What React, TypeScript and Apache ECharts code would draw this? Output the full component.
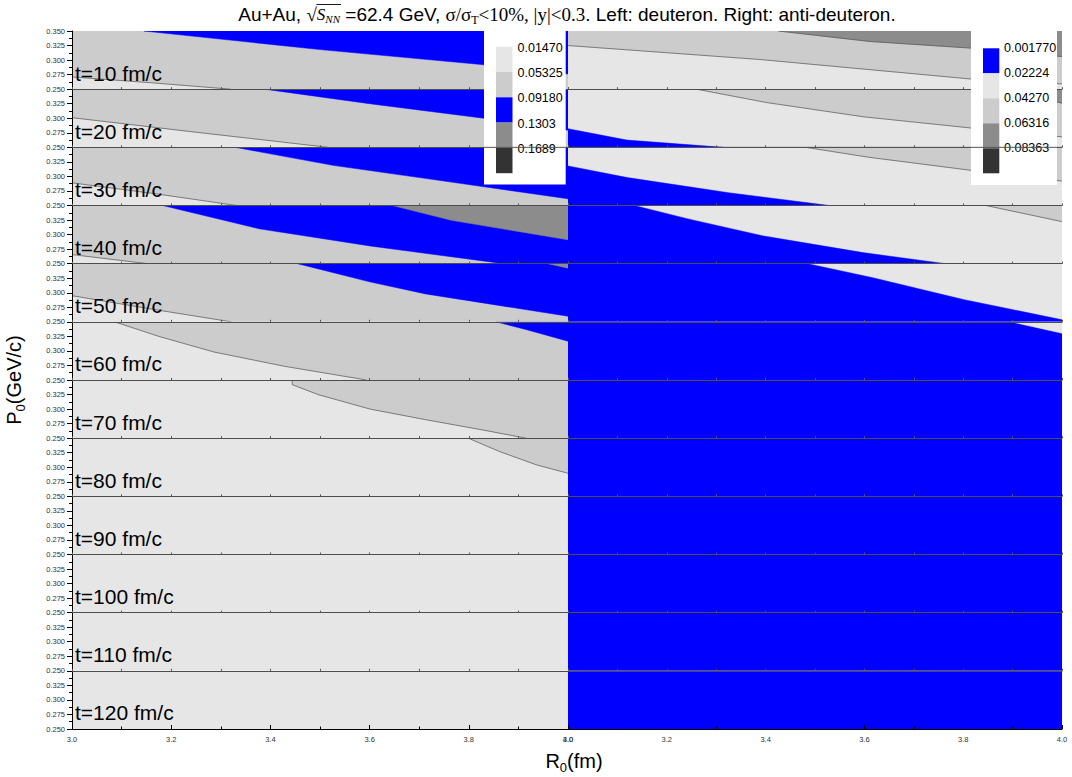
import React, { useEffect, useRef } from "react";
import * as echarts from "echarts";

// ---------------- data ----------------
const TIMES = [10, 20, 30, 40, 50, 60, 70, 80, 90, 100, 110, 120];
const R_RANGE = [3.0, 4.0];
const P_RANGE = [0.25, 0.35];
const P_TICK = 0.025;
const R_TICK = 0.2;

const DEUTERON_LEVELS = ["0.01470", "0.05325", "0.09180", "0.1303", "0.1689"];
const DEUTERON_COLORS = ["#e6e6e6", "#cccccc", "#0000ff", "#8c8c8c", "#333333"];
const ANTI_LEVELS = ["0.001770", "0.02224", "0.04270", "0.06316", "0.08363"];
const ANTI_COLORS = ["#0000ff", "#e6e6e6", "#cccccc", "#8c8c8c", "#333333"];

// background level (index into colours) of every time row
const DEUTERON_BASE = [0, 0, 0, 0, 0, 0, 0, 0, 0, 0, 0, 0];
const ANTI_BASE = [1, 1, 1, 1, 1, 0, 0, 0, 0, 0, 0, 0];

// contour curves, points are [R0 (fm), P0 (GeV/c)]
const d10Low = [[3, 0.271], [3.16, 0.261], [3.32, 0.25]];
const d10High = [[3.145, 0.35], [3.5, 0.318], [3.83, 0.292], [4, 0.276]];
const d20Low = [[3, 0.301], [3.25, 0.276], [3.517, 0.25]];
const d20High = [[3.388, 0.35], [3.6, 0.325], [3.83, 0.3], [4, 0.2795]];
const d30Low = [[3, 0.289], [3.17, 0.27], [3.332, 0.25]];
const d30High = [[3.329, 0.35], [3.526, 0.319], [3.75, 0.292], [4, 0.2615]];
const d40Low = [[3, 0.2656], [3.153, 0.25]];
const d40High = [[3.183, 0.35], [3.377, 0.31], [3.601, 0.2804], [3.87, 0.25]];
const d40Top = [[3.646, 0.35], [3.765, 0.3245], [4, 0.291]];
const d50Low = [[3, 0.295], [3.16, 0.272], [3.321, 0.25]];
const d50High = [[3.455, 0.35], [3.6, 0.3187], [3.713, 0.298], [4, 0.2596]];
const d50Top = [[3.96, 0.35], [4, 0.3423]];
const d60Low = [[3.086, 0.35], [3.175, 0.325], [3.287, 0.298], [3.429, 0.2735], [3.594, 0.25]];
const d60High = [[3.855, 0.35], [3.915, 0.3368], [4, 0.3167]];
const d70Low = [[3.444, 0.35], [3.444, 0.342], [3.497, 0.3247], [3.601, 0.3], [3.713, 0.2818], [3.825, 0.2646], [3.915, 0.25]];
const d80Low = [[3.799, 0.35], [3.862, 0.327], [3.937, 0.304], [4, 0.2897]];

const a10Mid = [[3, 0.325], [3.389, 0.301], [3.815, 0.2675], [4, 0.259]];
const a10Top = [[3.426, 0.35], [3.611, 0.332], [3.815, 0.3206], [4, 0.306]];
const a20Blue = [[3, 0.282], [3.119, 0.2625], [3.314, 0.25]];
const a20Mid = [[3.26, 0.35], [3.402, 0.327], [3.598, 0.3025], [3.815, 0.2833], [4, 0.268]];
const a20Top = [[3.88, 0.35], [4, 0.326]];
const a30Blue = [[3, 0.318], [3.12, 0.298], [3.325, 0.272], [3.529, 0.25]];
const a30Mid = [[3.481, 0.35], [3.611, 0.3327], [3.824, 0.3096], [4, 0.292]];
const a40Blue = [[3.134, 0.35], [3.243, 0.327], [3.393, 0.298], [3.597, 0.269], [3.764, 0.25]];
const a40Mid = [[3.846, 0.35], [4, 0.3223]];
const a50Blue = [[3.485, 0.35], [3.617, 0.3258], [3.802, 0.288], [4, 0.2536]];
const a60Light = [[3.897, 0.35], [4, 0.3304]];

// [row, colour level, side of curve that is filled, curve, draw contour line]
const DEUTERON_BANDS: any[] = [
  [0, 1, "ur", d10Low, 1], [0, 2, "ur", d10High, 0],
  [1, 1, "ur", d20Low, 1], [1, 2, "ur", d20High, 0],
  [2, 1, "ur", d30Low, 1], [2, 2, "ur", d30High, 0],
  [3, 1, "ur", d40Low, 1], [3, 2, "ur", d40High, 0], [3, 3, "ur", d40Top, 0],
  [4, 1, "ur", d50Low, 1], [4, 2, "ur", d50High, 0], [4, 3, "ur", d50Top, 0],
  [5, 1, "ur", d60Low, 1], [5, 2, "ur", d60High, 0],
  [6, 1, "ur", d70Low, 1],
  [7, 1, "ur", d80Low, 1],
];
const ANTI_BANDS: any[] = [
  [0, 2, "ur", a10Mid, 1], [0, 3, "ur", a10Top, 1],
  [1, 0, "ll", a20Blue, 0], [1, 2, "ur", a20Mid, 1], [1, 3, "ur", a20Top, 1],
  [2, 0, "ll", a30Blue, 0], [2, 2, "ur", a30Mid, 1],
  [3, 0, "ll", a40Blue, 0], [3, 2, "ur", a40Mid, 1],
  [4, 0, "ll", a50Blue, 0],
  [5, 1, "ur", a60Light, 0],
];

// ---------------- layout ----------------
const PLOT_TOP = 31;
const PLOT_BOTTOM = 729;
const ROW_H = (PLOT_BOTTOM - PLOT_TOP) / TIMES.length;
const SANS = "Liberation Sans, Arial, sans-serif";
const SERIF = "Liberation Serif, Times New Roman, serif";
const EPS = 1e-9;

function closeUR(c: number[][]) {
  const [r0, r1] = R_RANGE;
  const [p0, p1] = P_RANGE;
  const pts = c.map((p) => [p[0], p[1]]);
  const S = c[0];
  const E = c[c.length - 1];
  if (E[1] <= p0 + EPS && E[0] < r1 - EPS) pts.push([r1, p0]);
  if (!(E[0] >= r1 - EPS && E[1] >= p1 - EPS)) pts.push([r1, p1]);
  if (S[0] <= r0 + EPS && S[1] < p1 - EPS) pts.push([r0, p1]);
  return pts;
}
function closeLL(c: number[][]) {
  const [r0, r1] = R_RANGE;
  const [p0, p1] = P_RANGE;
  const pts = c.map((p) => [p[0], p[1]]);
  const S = c[0];
  const E = c[c.length - 1];
  if (E[0] >= r1 - EPS && E[1] > p0 + EPS) pts.push([r1, p0]);
  pts.push([r0, p0]);
  if (S[1] >= p1 - EPS && S[0] > r0 + EPS) pts.push([r0, p1]);
  return pts;
}

const PANELS = [
  { left: 72, width: 496, colors: DEUTERON_COLORS, base: DEUTERON_BASE, bands: DEUTERON_BANDS, labels: true },
  { left: 568, width: 494, colors: ANTI_COLORS, base: ANTI_BASE, bands: ANTI_BANDS, labels: false },
];

function buildOption() {
  const grids: any[] = [];
  const xAxes: any[] = [];
  const yAxes: any[] = [];
  const series: any[] = [];
  const rect = [
    [R_RANGE[0], P_RANGE[0]], [R_RANGE[1], P_RANGE[0]],
    [R_RANGE[1], P_RANGE[1]], [R_RANGE[0], P_RANGE[1]],
  ];

  PANELS.forEach((panel) => {
    TIMES.forEach((_t, ri) => {
      const gi = grids.length;
      const bottom = ri === TIMES.length - 1;
      grids.push({
        left: panel.left, width: panel.width,
        top: PLOT_TOP + ri * ROW_H, height: ROW_H,
        containLabel: false, outerBoundsMode: "none",
      });
      xAxes.push({
        type: "value", gridIndex: gi, min: R_RANGE[0], max: R_RANGE[1],
        interval: bottom ? R_TICK : 0.1, z: 10,
        axisLine: { show: true, onZero: false, lineStyle: { color: bottom ? "#000" : "#4d4d4d", width: 1 } },
        axisTick: { show: true, inside: true, length: bottom ? 4 : 2, lineStyle: { color: bottom ? "#000" : "#555" } },
        minorTick: { show: bottom, splitNumber: 2, length: 2.5, lineStyle: { color: "#000" } },
        axisLabel: {
          show: bottom, fontSize: 7.5, color: "#333", fontFamily: SANS, margin: 6,
          formatter: (v: number) => v.toFixed(1),
        },
        splitLine: { show: false },
      });
      if (panel.labels) {
        yAxes.push({
          type: "value", gridIndex: gi, min: P_RANGE[0], max: P_RANGE[1], interval: P_TICK, z: 10,
          axisLine: { show: true, onZero: false, lineStyle: { color: "#000", width: 1 } },
          axisTick: { show: true, inside: false, length: 5, lineStyle: { color: "#000" } },
          minorTick: { show: true, splitNumber: 2, length: 3, lineStyle: { color: "#000" } },
          axisLabel: {
            show: true, fontSize: 7.5, color: "#333", fontFamily: SANS, margin: 7,
            showMaxLabel: ri === 0, showMinLabel: true,
            formatter: (v: number) => v.toFixed(3),
          },
          splitLine: { show: false },
        });
      } else {
        yAxes.push({ type: "value", gridIndex: gi, min: P_RANGE[0], max: P_RANGE[1], show: false });
      }

      const polys: any[] = [{ pts: rect, color: panel.colors[panel.base[ri]], line: null }];
      panel.bands
        .filter((b: any) => b[0] === ri)
        .forEach((b: any) => {
          polys.push({
            pts: b[2] === "ur" ? closeUR(b[3]) : closeLL(b[3]),
            color: panel.colors[b[1]],
            line: b[4] ? b[3] : null,
          });
        });

      series.push({
        type: "custom", coordinateSystem: "cartesian2d",
        xAxisIndex: gi, yAxisIndex: gi, silent: true, clip: true,
        data: polys.map((_p, i) => [3.5, 0.3, i]),
        renderItem: (params: any, api: any) => {
          const p = polys[params.dataIndex];
          const children: any[] = [{
            type: "polygon",
            shape: { points: p.pts.map((q: number[]) => api.coord(q)) },
            style: { fill: p.color, stroke: p.color, lineWidth: 0.5 },
          }];
          if (p.line) {
            children.push({
              type: "polyline",
              shape: { points: p.line.map((q: number[]) => api.coord(q)) },
              style: { stroke: "#555", lineWidth: 0.7, fill: null },
            });
          }
          return { type: "group", children };
        },
      });
    });
  });

  const graphic: any[] = [];
  // time labels
  TIMES.forEach((t, i) => {
    graphic.push({
      type: "text", x: 75, y: PLOT_TOP + i * ROW_H + 42, z: 100, silent: true,
      style: { text: `t=${t} fm/c`, fontSize: 21, fontFamily: SANS, fill: "#000", verticalAlign: "middle" },
    });
  });
  // legends
  const legends = [
    { box: [484, 31, 81.7, 153.5], sx: 496, sy: 46.7, sw: 16.5, sh: 25.3, lx: 517.5, ly: 47.7, colors: DEUTERON_COLORS, levels: DEUTERON_LEVELS },
    { box: [971, 31, 86, 154], sx: 983, sy: 48.3, sw: 16.3, sh: 25, lx: 1004, ly: 48.3, colors: ANTI_COLORS, levels: ANTI_LEVELS },
  ];
  legends.forEach((lg) => {
    graphic.push({
      type: "rect", z: 100, silent: true,
      shape: { x: lg.box[0], y: lg.box[1], width: lg.box[2], height: lg.box[3] },
      style: { fill: "#fff" },
    });
    lg.colors.forEach((c, k) => {
      graphic.push({
        type: "rect", z: 101, silent: true,
        shape: { x: lg.sx, y: lg.sy + k * lg.sh, width: lg.sw, height: lg.sh },
        style: { fill: c },
      });
      graphic.push({
        type: "text", z: 102, silent: true, x: lg.lx, y: lg.ly + k * lg.sh,
        style: { text: lg.levels[k], fontSize: 12.5, fontFamily: SANS, fill: "#000", verticalAlign: "middle" },
      });
    });
  });
  // row boundary drawn over the legends
  graphic.push({
    type: "line", z: 103, silent: true,
    shape: { x1: 484, y1: PLOT_TOP + 2 * ROW_H, x2: 1062, y2: PLOT_TOP + 2 * ROW_H },
    style: { stroke: "#555", lineWidth: 1 },
  });
  // title
  graphic.push({
    type: "text", x: 567, y: 14, z: 100, silent: true,
    style: {
      text: "{a|Au+Au, }{r|√}{s|S}{sub|NN}{a| =62.4 GeV, }{t|σ/σ}{tsub|T}{t|<10%, |y|<0.3}{a|. Left: deuteron. Right: anti-deuteron.}",
      align: "center", verticalAlign: "middle",
      rich: {
        a: { fontSize: 19, fontFamily: SANS, fill: "#000" },
        r: { fontSize: 19, fontFamily: SERIF, fill: "#000" },
        s: { fontSize: 17, fontFamily: SERIF, fontStyle: "italic", fill: "#000" },
        sub: { fontSize: 11, fontFamily: SERIF, fontStyle: "italic", fill: "#000", padding: [10, 0, 0, 0] },
        t: { fontSize: 19, fontFamily: SERIF, fill: "#000" },
        tsub: { fontSize: 12, fontFamily: SERIF, fill: "#000", padding: [12, 0, 0, 0] },
      },
    },
  });
  // radical bar over S_NN
  graphic.push({
    type: "line", z: 100, silent: true,
    shape: { x1: 316.5, y1: 4.5, x2: 341, y2: 4.5 },
    style: { stroke: "#000", lineWidth: 0.9 },
  });
  // axis names
  graphic.push({
    type: "text", x: 574, y: 761, z: 100, silent: true,
    style: {
      text: "{a|R}{s|0}{a|(fm)}", align: "center", verticalAlign: "middle",
      rich: {
        a: { fontSize: 20, fontFamily: SANS, fill: "#000" },
        s: { fontSize: 13, fontFamily: SANS, fill: "#000", padding: [12, 0, 0, 0] },
      },
    },
  });
  graphic.push({
    type: "text", x: 14, y: 380, z: 100, silent: true, rotation: Math.PI / 2,
    style: {
      text: "{a|P}{s|0}{a|(GeV/c)}", align: "center", verticalAlign: "middle",
      rich: {
        a: { fontSize: 20, fontFamily: SANS, fill: "#000" },
        s: { fontSize: 13, fontFamily: SANS, fill: "#000", padding: [12, 0, 0, 0] },
      },
    },
  });

  return {
    animation: false,
    backgroundColor: "#fff",
    grid: grids,
    xAxis: xAxes,
    yAxis: yAxes,
    series,
    graphic,
  };
}

export default function App() {
  const ref = useRef<HTMLDivElement>(null);
  useEffect(() => {
    const chart = echarts.init(ref.current!, null, { renderer: "svg" });
    chart.setOption(buildOption() as any);
    return () => chart.dispose();
  }, []);
  return (
    <div
      ref={ref}
      style={{ position: "fixed", left: 0, top: 0, width: 1072, height: 777, background: "#fff" }}
    />
  );
}
